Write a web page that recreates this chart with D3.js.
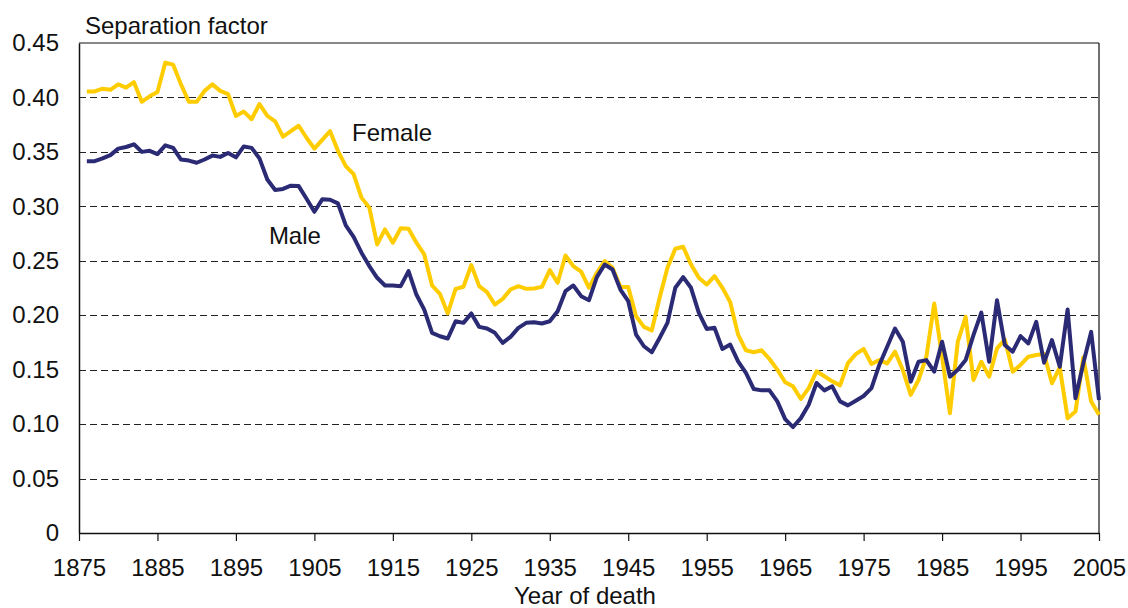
<!DOCTYPE html>
<html>
<head>
<meta charset="utf-8">
<script src="https://cdn.jsdelivr.net/npm/d3@7/dist/d3.min.js"></script>
<style>
  html, body { margin: 0; padding: 0; background: #fff; }
  svg { display: block; }
  text { font-family: "Liberation Sans", Arial, sans-serif; fill: #111; }
</style>
</head>
<body>
<svg id="chart" width="1128" height="608"></svg>
<script>
// ---- Data ----
const firstYear = 1876, lastYear = 2005;
const years = d3.range(firstYear, lastYear + 1);

const male = [
  0.3415, 0.3415, 0.344, 0.347, 0.353, 0.3545, 0.357, 0.350, 0.351, 0.348,   // 1876-1885
  0.356, 0.3537, 0.343, 0.342, 0.340, 0.343, 0.3466, 0.3454, 0.349, 0.345,   // 1886-1895
  0.355, 0.3537, 0.344, 0.3247, 0.315, 0.316, 0.319, 0.3186, 0.307, 0.295,   // 1896-1905
  0.3064, 0.306, 0.3027, 0.2825, 0.272, 0.2574, 0.2451, 0.2344, 0.2273, 0.2273, // 1906-1915
  0.2267, 0.2405, 0.219, 0.2052, 0.1838, 0.1807, 0.1786, 0.1945, 0.193, 0.2016, // 1916-1925
  0.1893, 0.1878, 0.1838, 0.1746, 0.1801, 0.1884, 0.193, 0.1936, 0.1924, 0.1945, // 1926-1935
  0.2037, 0.2221, 0.2273, 0.2175, 0.2138, 0.2350, 0.2466, 0.242, 0.2236, 0.2129, // 1936-1945
  0.1822, 0.1715, 0.166, 0.1791, 0.193, 0.2252, 0.235, 0.2252, 0.2022, 0.1874,   // 1946-1955
  0.1884, 0.169, 0.173, 0.1577, 0.147, 0.1322, 0.131, 0.131, 0.1209, 0.1046,     // 1956-1965
  0.0973, 0.1055, 0.1178, 0.1378, 0.131, 0.1347, 0.1209, 0.1172, 0.1215, 0.1258, // 1966-1975
  0.133, 0.1543, 0.171, 0.1878, 0.1756, 0.139, 0.1573, 0.1588, 0.1482, 0.1756,   // 1976-1985
  0.1436, 0.150, 0.1588, 0.1817, 0.2024, 0.1573, 0.2137, 0.1726, 0.1665, 0.1808, // 1986-1995
  0.1741, 0.1939, 0.1564, 0.1771, 0.1527, 0.2052, 0.1237, 0.1558, 0.1847, 0.1222 // 1996-2005
];

const female = [
  0.4055, 0.4055, 0.408, 0.407, 0.412, 0.409, 0.414, 0.396, 0.401, 0.405,     // 1876-1885
  0.432, 0.430, 0.412, 0.396, 0.396, 0.406, 0.412, 0.406, 0.403, 0.383,       // 1886-1895
  0.387, 0.380, 0.394, 0.383, 0.378, 0.364, 0.369, 0.374, 0.363, 0.353,       // 1896-1905
  0.361, 0.369, 0.351, 0.337, 0.3295, 0.308, 0.2988, 0.265, 0.2788, 0.2666,   // 1906-1915
  0.2798, 0.2795, 0.2666, 0.2558, 0.2273, 0.2196, 0.2016, 0.2242, 0.2261, 0.246, // 1916-1925
  0.2267, 0.2212, 0.2098, 0.215, 0.2236, 0.2267, 0.2242, 0.2245, 0.226, 0.2414,  // 1926-1935
  0.2298, 0.2549, 0.2451, 0.240, 0.2252, 0.239, 0.2497, 0.2436, 0.226, 0.226,    // 1936-1945
  0.199, 0.1893, 0.186, 0.216, 0.2436, 0.261, 0.2629, 0.2466, 0.2344, 0.2282,    // 1946-1955
  0.2359, 0.2252, 0.212, 0.1822, 0.1678, 0.166, 0.1678, 0.1598, 0.150, 0.1384,   // 1956-1965
  0.1347, 0.123, 0.1331, 0.1485, 0.1439, 0.1393, 0.1356, 0.156, 0.1643, 0.169,   // 1966-1975
  0.1552, 0.1588, 0.1558, 0.1665, 0.1497, 0.1268, 0.1405, 0.1619, 0.2107, 0.1619, // 1976-1985
  0.110, 0.1756, 0.1985, 0.1405, 0.1573, 0.1436, 0.1695, 0.1777, 0.1482, 0.1543,  // 1986-1995
  0.1619, 0.1634, 0.1643, 0.1375, 0.1521, 0.1054, 0.1115, 0.1613, 0.1207, 0.1085  // 1996-2005
];

const xTicks = [1875, 1885, 1895, 1905, 1915, 1925, 1935, 1945, 1955, 1965, 1975, 1985, 1995, 2005];
const yTicks = [0, 0.05, 0.10, 0.15, 0.20, 0.25, 0.30, 0.35, 0.40, 0.45];
const gridTicks = [0.05, 0.10, 0.15, 0.20, 0.25, 0.30, 0.35, 0.40];

const seriesLabels = [
  { name: "Female", year: 1909.8, value: 0.360 },
  { name: "Male", year: 1899.2, value: 0.265 }
];

// ---- Layout ----
const svg = d3.select("#chart");
const W = 1128, H = 608;
const margin = { left: 79, top: 43, right: W - 1099, bottom: H - 533 };
const x = d3.scaleLinear().domain([1875, 2005]).range([margin.left, W - margin.right]);
const y = d3.scaleLinear().domain([0, 0.45]).range([H - margin.bottom, margin.top]);

const fontSize = 24;

// Gridlines
svg.append("g")
  .selectAll("line")
  .data(gridTicks)
  .join("line")
  .attr("x1", x(1875)).attr("x2", x(2005))
  .attr("y1", d => Math.round(y(d)) + 0.5).attr("y2", d => Math.round(y(d)) + 0.5)
  .attr("stroke", "#222")
  .attr("stroke-width", 1)
  .attr("stroke-dasharray", "7,4");

// Frame (top and right)
svg.append("line")
  .attr("x1", x(1875)).attr("x2", x(2005))
  .attr("y1", y(0.45)).attr("y2", y(0.45))
  .attr("stroke", "#111").attr("stroke-width", 1.2);
svg.append("line")
  .attr("x1", x(2005)).attr("x2", x(2005))
  .attr("y1", y(0.45)).attr("y2", y(0))
  .attr("stroke", "#111").attr("stroke-width", 1.2);

// X axis
const xAxis = d3.axisBottom(x)
  .tickValues(xTicks)
  .tickFormat(d3.format("d"))
  .tickSizeInner(8)
  .tickSizeOuter(0)
  .tickPadding(18);
const gx = svg.append("g")
  .attr("transform", `translate(0,${y(0)})`)
  .call(xAxis);
gx.select(".domain").attr("stroke", "#111").attr("stroke-width", 1.5);
gx.selectAll(".tick line").attr("stroke", "#111").attr("stroke-width", 1.2);
gx.selectAll(".tick text")
  .attr("font-family", "Liberation Sans, Arial, sans-serif")
  .attr("font-size", fontSize)
  .attr("fill", "#111");

// Y axis
const yAxis = d3.axisLeft(y)
  .tickValues(yTicks)
  .tickFormat(d => d === 0 ? "0" : d3.format(".2f")(d))
  .tickSize(0)
  .tickPadding(20);
const gy = svg.append("g")
  .attr("transform", `translate(${x(1875)},0)`)
  .call(yAxis);
gy.select(".domain").attr("stroke", "#111").attr("stroke-width", 1.5);
gy.selectAll(".tick text")
  .attr("font-family", "Liberation Sans, Arial, sans-serif")
  .attr("font-size", fontSize)
  .attr("fill", "#111");

// Lines
const line = d3.line()
  .x((d, i) => x(years[i]))
  .y(d => y(d));

svg.append("path")
  .datum(female)
  .attr("d", line)
  .attr("fill", "none")
  .attr("stroke", "#FFCC00")
  .attr("stroke-width", 4)
  .attr("stroke-linejoin", "round");

svg.append("path")
  .datum(male)
  .attr("d", line)
  .attr("fill", "none")
  .attr("stroke", "#2B2A75")
  .attr("stroke-width", 4)
  .attr("stroke-linejoin", "round");

// Series labels
svg.selectAll(".slabel")
  .data(seriesLabels)
  .join("text")
  .attr("class", "slabel")
  .attr("x", d => x(d.year))
  .attr("y", d => y(d.value))
  .attr("font-size", fontSize)
  .text(d => d.name);

// Axis titles
svg.append("text")
  .attr("x", 85)
  .attr("y", 34)
  .attr("font-size", fontSize)
  .text("Separation factor");

svg.append("text")
  .attr("x", 585)
  .attr("y", 604)
  .attr("text-anchor", "middle")
  .attr("font-size", fontSize)
  .text("Year of death");
</script>
</body>
</html>
